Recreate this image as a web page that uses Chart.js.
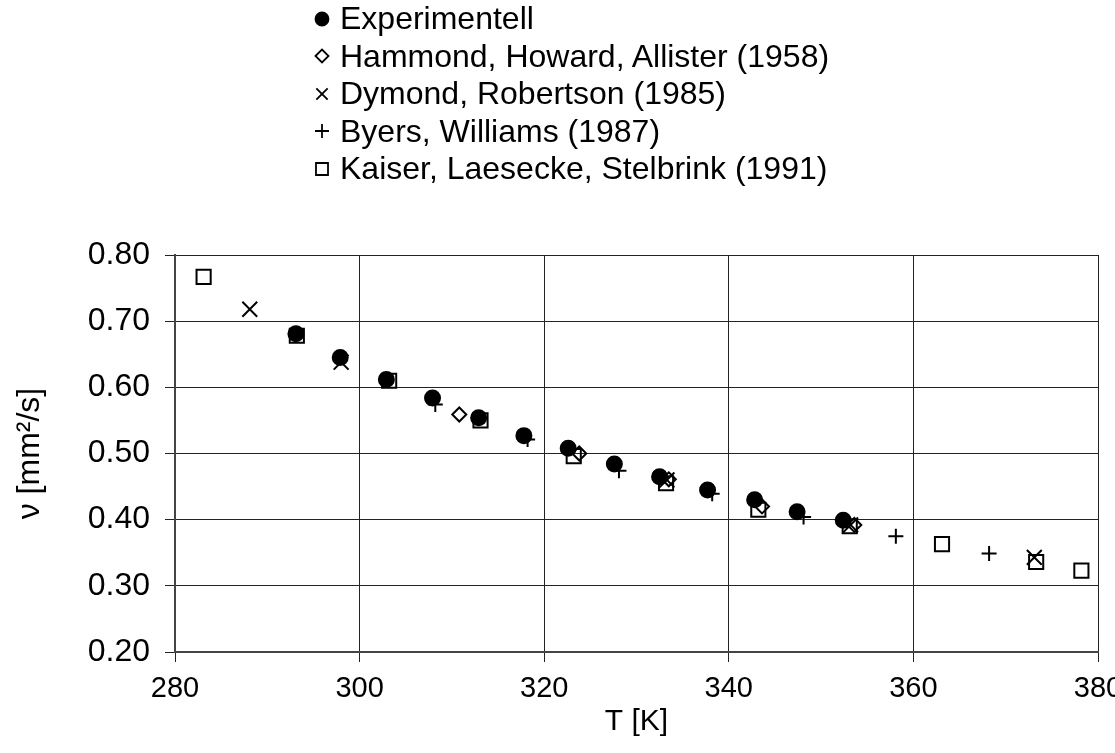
<!DOCTYPE html>
<html>
<head>
<meta charset="utf-8">
<script src="https://cdn.jsdelivr.net/npm/chart.js@4.4.1/dist/chart.umd.min.js"></script>
<style>
  html, body { margin: 0; padding: 0; background: #fff; }
  #wrap { position: relative; width: 1115px; height: 753px; }
  #legend {
    position: absolute; left: 310px; top: 0px;
    font-family: "Liberation Sans", Arial, sans-serif; font-size: 32px; color: #000;
  }
  .row { display: flex; align-items: center; height: 37.5px; white-space: nowrap; }
  .row canvas { width: 24px; height: 24px; margin-right: 6px; }
</style>
</head>
<body>
<div id="wrap">
  <canvas id="chart" width="1115" height="753"></canvas>
  <div id="legend"></div>
</div>
<script>
// Kinematic viscosity vs. temperature
const expT = [293.1, 297.9, 302.9, 307.9, 312.9, 317.8, 322.6, 327.6, 332.5, 337.7, 342.8, 347.4, 352.4];
const expNu = [0.681, 0.645, 0.612, 0.584, 0.554, 0.527, 0.508, 0.484, 0.465, 0.445, 0.430, 0.412, 0.399];

const hammondT = [310.8, 323.8, 333.5, 343.6, 353.6];
const hammondNu = [0.559, 0.500, 0.461, 0.420, 0.392];

const dymondT = [288.1, 298.0, 333.3, 353.2, 373.1];
const dymondNu = [0.718, 0.638, 0.460, 0.392, 0.343];

const byersT = [308.2, 318.2, 328.1, 338.2, 348.1, 358.1, 368.2];
const byersNu = [0.574, 0.521, 0.474, 0.439, 0.404, 0.375, 0.349];

const kaiserT = [283.1, 293.2, 303.2, 313.1, 323.2, 333.2, 343.2, 353.1, 363.1, 373.3, 378.2];
const kaiserNu = [0.767, 0.678, 0.610, 0.550, 0.496, 0.455, 0.415, 0.390, 0.363, 0.336, 0.323];

const seriesNames = [
  "Experimentell",
  "Hammond, Howard, Allister (1958)",
  "Dymond, Robertson (1985)",
  "Byers, Williams (1987)",
  "Kaiser, Laesecke, Stelbrink (1991)"
];

const xTicks = [280, 300, 320, 340, 360, 380];
const yTicks = [0.2, 0.3, 0.4, 0.5, 0.6, 0.7, 0.8];

const FONT = "'Liberation Sans', Arial, sans-serif";

function points(xs, ys) {
  return xs.map((x, i) => ({ x: x, y: ys[i] }));
}

function makeSet(label, xs, ys, style, radius, filled) {
  return {
    label: label,
    data: points(xs, ys),
    pointStyle: style,
    pointRadius: radius,
    pointHoverRadius: radius,
    pointBorderWidth: 2,
    pointBorderColor: '#000',
    pointBackgroundColor: filled ? '#000' : 'rgba(0,0,0,0)',
    showLine: false
  };
}

const datasets = [
  makeSet(seriesNames[0], expT, expNu, 'circle', 7.5, true),
  makeSet(seriesNames[1], hammondT, hammondNu, 'rectRot', 7, false),
  makeSet(seriesNames[2], dymondT, dymondNu, 'crossRot', 10.5, false),
  makeSet(seriesNames[3], byersT, byersNu, 'cross', 7.5, false),
  makeSet(seriesNames[4], kaiserT, kaiserNu, 'rect', 10, false)
];

const gridColor = '#222';

const chart = new Chart(document.getElementById('chart'), {
  type: 'scatter',
  data: { datasets: datasets },
  options: {
    responsive: false,
    animation: false,
    events: [],
    layout: { padding: { top: 255, right: 17, bottom: 0, left: 0 } },
    plugins: {
      legend: { display: false },
      tooltip: { enabled: false }
    },
    scales: {
      x: {
        type: 'linear',
        min: 280,
        max: 380,
        afterBuildTicks: (s) => { s.ticks = xTicks.map(v => ({ value: v })); },
        afterFit: (s) => { s.height = 101; s.paddingLeft = 0; s.paddingRight = 0; },
        ticks: {
          color: '#000',
          font: { family: FONT, size: 29 },
          padding: 10,
          maxRotation: 0
        },
        grid: { color: gridColor, lineWidth: 1, tickLength: 10, tickColor: gridColor },
        border: { color: '#444', width: 2 },
        title: {
          display: true,
          text: 'T [K]',
          color: '#000',
          font: { family: FONT, size: 30 },
          padding: { top: 0, bottom: 13 }
        }
      },
      y: {
        type: 'linear',
        min: 0.2,
        max: 0.8,
        afterBuildTicks: (s) => { s.ticks = yTicks.map(v => ({ value: v })); },
        afterFit: (s) => { s.width = 175; s.paddingTop = 0; s.paddingBottom = 0; },
        ticks: {
          color: '#000',
          font: { family: FONT, size: 32 },
          padding: 15,
          callback: (v) => v.toFixed(2)
        },
        grid: { color: gridColor, lineWidth: 1, tickLength: 10, tickColor: gridColor },
        border: { color: '#444', width: 2 },
        title: {
          display: true,
          text: 'ν [mm²/s]',
          color: '#000',
          font: { family: FONT, size: 32 },
          padding: { top: 11, bottom: 0 }
        }
      }
    }
  }
});

// Legend markers, smaller than the plotted ones
const legendRadius = [6.5, 6.5, 8, 7, 8.5];
const legendEl = document.getElementById('legend');
chart.data.datasets.forEach((ds, i) => {
  const row = document.createElement('div');
  row.className = 'row';
  const c = document.createElement('canvas');
  c.width = 24; c.height = 24;
  const ctx = c.getContext('2d');
  ctx.fillStyle = ds.pointBackgroundColor;
  ctx.strokeStyle = '#000';
  ctx.lineWidth = 1.8;
  Chart.helpers.drawPoint(ctx, {
    pointStyle: ds.pointStyle,
    radius: legendRadius[i],
    rotation: 0,
    borderWidth: 1.8
  }, 12, 12);
  const span = document.createElement('span');
  span.textContent = ds.label;
  row.appendChild(c);
  row.appendChild(span);
  legendEl.appendChild(row);
});
</script>
</body>
</html>
